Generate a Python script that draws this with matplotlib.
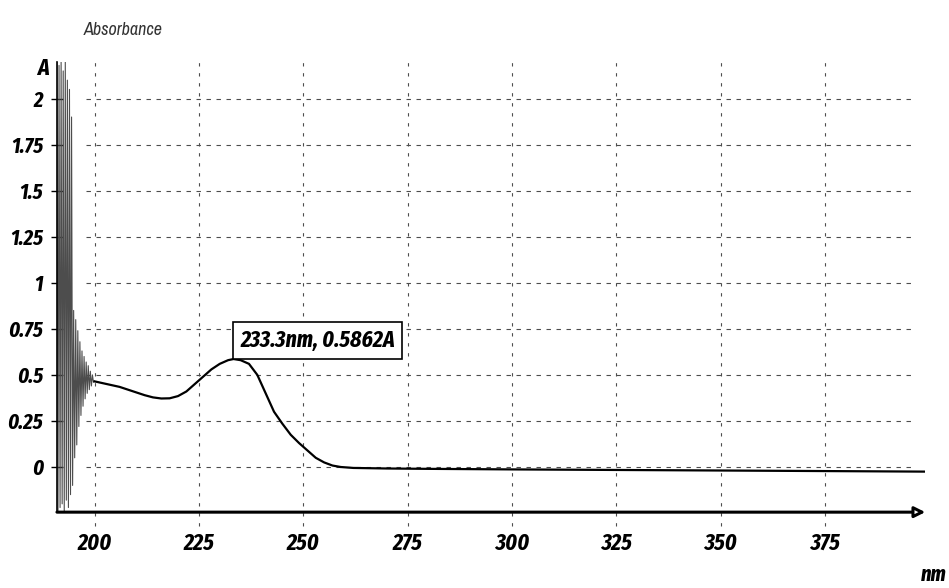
import matplotlib.pyplot as plt

# noisy start of the scan (solvent cut-off region)
noise_nm = [191.0, 191.25, 191.5, 191.75, 192.0, 192.25, 192.5, 192.75,
            193.0, 193.25, 193.5, 193.75, 194.0, 194.25, 194.5, 194.75,
            195.0, 195.25, 195.5, 195.75, 196.0, 196.25, 196.5, 196.75,
            197.0, 197.25, 197.5, 197.75, 198.0, 198.25, 198.5, 198.75,
            199.0, 199.25, 199.5, 199.75, 200.0]
noise_abs = [2.2, -0.24, 2.18, -0.22, 2.2, -0.2, 2.15, -0.24,
             2.2, -0.18, 2.1, -0.22, 2.05, -0.15, 1.9, -0.1,
             0.85, 0.05, 0.8, 0.12, 0.74, 0.22, 0.68, 0.28,
             0.63, 0.33, 0.6, 0.37, 0.57, 0.4, 0.55, 0.42,
             0.52, 0.44, 0.5, 0.46, 0.465]

# smooth part of the spectrum
wavelength = [200, 202, 204, 206, 208, 210, 212, 214, 216, 218, 220, 222,
              224, 226, 228, 230, 232, 233.3, 235, 237, 239, 241, 243, 245,
              247, 249, 251, 253, 255, 257, 259, 262, 270, 280, 300, 325,
              350, 375, 399]
absorbance = [0.465, 0.455, 0.445, 0.435, 0.42, 0.405, 0.39, 0.378, 0.372,
              0.373, 0.385, 0.41, 0.45, 0.49, 0.53, 0.56, 0.58, 0.5862, 0.58,
              0.56, 0.5, 0.4, 0.3, 0.235, 0.175, 0.13, 0.09, 0.05, 0.025,
              0.008, 0.0, -0.005, -0.008, -0.01, -0.013, -0.016, -0.019,
              -0.022, -0.025]

peak_nm = 233.3
peak_abs = 0.5862

xticks = [200, 225, 250, 275, 300, 325, 350, 375]
yticks = [0, 0.25, 0.5, 0.75, 1, 1.25, 1.5, 1.75, 2]
ytick_labels = ["0", "0.25", "0.5", "0.75", "1", "1.25", "1.5", "1.75", "2"]

cond = ["Fira Sans Extra Condensed", "DejaVu Sans"]
plt.rcParams["font.family"] = cond

fig = plt.figure(figsize=(9.49, 5.88), dpi=100)
ax = fig.add_axes([0.060, 0.129, 0.915, 0.766])
ax.set_xlim(191, 399)
ax.set_ylim(-0.245, 2.2)

# grid: horizontal lines start near 200 nm, vertical ones poke below the axis
ax.hlines(yticks, 198, 396, colors="0.3", linestyles=(0, (4, 5)), lw=0.8)
ax.vlines(xticks, -0.32, 2.2, colors="0.3", linestyles=(0, (3, 6)), lw=0.8,
          clip_on=False)

ax.plot(noise_nm, noise_abs, color="0.3", lw=0.8)
ax.plot(wavelength, absorbance, color="black", lw=1.6)

ax.annotate(f"{peak_nm}nm, {peak_abs}A", xy=(peak_nm, peak_abs),
            xytext=(5, 5), textcoords="offset points", ha="left", va="bottom",
            fontsize=17, fontweight="bold", fontstyle="italic",
            bbox=dict(boxstyle="square,pad=0.3", fc="white", ec="black", lw=1.2))

for side in ["top", "right", "bottom"]:
    ax.spines[side].set_visible(False)
ax.spines["left"].set_linewidth(1.2)

# x axis drawn as an arrow
ax.annotate("", xy=(1.0, 0), xytext=(0, 0), xycoords="axes fraction",
            arrowprops=dict(arrowstyle="-|>", lw=2.2, color="black",
                            fc="white", mutation_scale=16, shrinkA=0, shrinkB=0))

ax.set_xticks(xticks)
ax.set_xticklabels([str(t) for t in xticks], fontsize=17,
                   fontweight="bold", fontstyle="italic")
ax.tick_params(axis="x", length=0, pad=14)
ax.set_yticks(yticks)
ax.set_yticklabels(ytick_labels, fontsize=16, fontweight="bold",
                   fontstyle="italic")
ax.tick_params(axis="y", direction="inout", length=8, width=1, pad=6)

fig.text(0.13, 0.949, "Absorbance", ha="center", va="center", fontsize=13,
         fontstyle="italic", color="0.2", family=["Archivo Narrow", "DejaVu Sans"])
fig.text(0.051, 0.883, "A", ha="right", va="center", fontsize=17,
         fontweight="bold", fontstyle="italic")
fig.text(0.970, 0.004, "nm", ha="left", va="bottom", fontsize=16,
         fontweight="bold", fontstyle="italic")

plt.savefig("out.png", dpi=100)
plt.close()
